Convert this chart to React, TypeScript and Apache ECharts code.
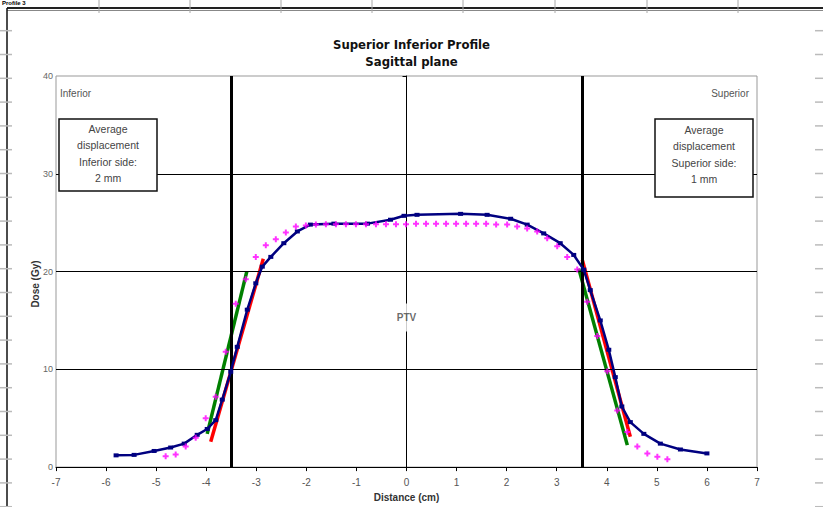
import React, { useEffect, useRef } from "react";
import * as echarts from "echarts";

// ---- data ----
const xTickMin = -7;
const xTickMax = 7;
const doseMin = 0;
const doseMax = 40;

// measured profile (navy)
const blueX = [-5.8, -5.44, -5.04, -4.71, -4.44, -4.18, -3.98, -3.81, -3.68, -3.51, -3.38, -3.18, -3.01, -2.88, -2.71, -2.45, -2.18, -1.92, -1.45, -0.78, -0.32, -0.05, 0.21, 1.08, 1.61, 2.08, 2.41, 2.74, 3.07, 3.34, 3.54, 3.67, 3.87, 4.04, 4.17, 4.3, 4.47, 4.74, 5.07, 5.47, 6.0];
const blueDose = [1.2, 1.25, 1.65, 2.0, 2.4, 3.3, 3.9, 4.8, 6.9, 9.75, 12.3, 16.1, 18.8, 20.5, 21.5, 22.9, 24.1, 24.8, 24.9, 24.9, 25.3, 25.7, 25.8, 25.9, 25.8, 25.4, 24.8, 23.9, 22.9, 21.7, 20.2, 18.1, 15.0, 12.0, 9.2, 6.2, 4.6, 3.4, 2.4, 1.8, 1.4];

// planned profile (magenta markers)
const magX = [-4.81, -4.61, -4.41, -4.21, -4.01, -3.81, -3.61, -3.41, -3.21, -3.01, -2.81, -2.61, -2.41, -2.21, -2.01, -1.81, -1.61, -1.41, -1.21, -1.01, -0.81, -0.61, -0.41, -0.21, -0.01, 0.19, 0.39, 0.59, 0.79, 0.99, 1.19, 1.39, 1.59, 1.79, 2.01, 2.21, 2.41, 2.61, 2.81, 3.01, 3.21, 3.41, 3.61, 3.81, 4.01, 4.21, 4.41, 4.61, 4.81, 5.01, 5.21];
const magDose = [1.1, 1.3, 2.1, 3.0, 5.0, 7.2, 11.8, 16.7, 19.2, 21.5, 22.7, 23.3, 24.0, 24.6, 24.7, 24.8, 24.85, 24.85, 24.85, 24.85, 24.85, 24.85, 24.85, 24.85, 24.85, 24.9, 24.9, 24.9, 24.9, 24.9, 24.9, 24.9, 24.9, 24.8, 24.8, 24.6, 24.4, 24.1, 23.4, 22.6, 21.5, 20.2, 16.9, 13.4, 9.8, 5.8, 3.6, 2.1, 1.4, 1.05, 0.8];

// fitted penumbra lines
const redLeftX = [-3.91, -2.86];
const redLeftDose = [2.6, 21.3];
const redRightX = [3.51, 4.47];
const redRightDose = [21.2, 3.1];
const greenLeftX = [-3.98, -3.19];
const greenLeftDose = [3.4, 20.0];
const greenRightX = [3.44, 4.41];
const greenRightDose = [20.3, 2.25];

const fieldEdges = [-3.5, 3.5];
const doseGridLines = [10, 20, 30];
const ptvLabelPoint = [0, 15.3];

const leftBoxLines = ["Average", "displacement", "Inferior side:", "2 mm"];
const rightBoxLines = ["Average", "displacement", "Superior side:", "1 mm"];

const pair = (xs: number[], ys: number[]) => xs.map((x, i) => [x, ys[i]]);

const FONT = "'Liberation Sans', Arial, sans-serif";
const NARROW = "'Liberation Sans Narrow', 'DejaVu Sans Condensed', 'Arial Narrow', sans-serif";

export default function App() {
  const ref = useRef<HTMLDivElement>(null);

  useEffect(() => {
    if (!ref.current) return;
    const chart = echarts.init(ref.current, null, { renderer: "svg" });

    const graphics: any[] = [];
    // sheet frame
    graphics.push({
      type: "text", left: 2, top: 0, z: 100,
      style: { text: "Profile 3", font: `bold 6px ${FONT}`, fill: "#000" },
    });
    graphics.push({ type: "line", z: 100, shape: { x1: 7, y1: 8, x2: 823, y2: 8 }, style: { stroke: "#222", lineWidth: 2 } });
    graphics.push({ type: "line", z: 100, shape: { x1: 7, y1: 10.5, x2: 823, y2: 10.5 }, style: { stroke: "#888", lineWidth: 1 } });
    graphics.push({ type: "line", z: 100, shape: { x1: 7, y1: 8, x2: 7, y2: 507 }, style: { stroke: "#111", lineWidth: 1.5 } });
    const colX = [99, 190, 281, 372, 463, 555, 647, 738];
    colX.forEach((x) =>
      graphics.push({ type: "line", z: 100, shape: { x1: x, y1: 0, x2: x, y2: 13 }, style: { stroke: "#aaa", lineWidth: 1 } })
    );
    for (let k = 0; k < 21; k++) {
      const y = 30.7 + 23.8 * k;
      graphics.push({ type: "line", z: 100, shape: { x1: 0, y1: y, x2: 12, y2: y }, style: { stroke: "#bbb", lineWidth: 1.5 } });
      graphics.push({ type: "line", z: 100, shape: { x1: 815, y1: y, x2: 823, y2: y }, style: { stroke: "#bbb", lineWidth: 1.5 } });
    }
    // corner labels
    graphics.push({ type: "text", x: 60, y: 93, z: 100, style: { text: "Inferior", font: `10px ${FONT}`, fill: "#555", verticalAlign: "middle" } });
    graphics.push({ type: "text", x: 749, y: 93, z: 100, style: { text: "Superior", font: `10px ${FONT}`, fill: "#555", align: "right", verticalAlign: "middle" } });
    // boxes
    const box = (x: number, y: number, w: number, h: number, lines: string[], y0: number) => {
      graphics.push({ type: "rect", z: 100, shape: { x, y, width: w, height: h }, style: { fill: "#fff", stroke: "#111", lineWidth: 1.5 } });
      lines.forEach((t, i) =>
        graphics.push({
          type: "text", z: 101, x: x + w / 2, y: y0 + 16.3 * i,
          style: { text: t, font: `10.5px ${FONT}`, fill: "#444", align: "center", verticalAlign: "middle" },
        })
      );
    };
    box(59, 119, 98, 72, leftBoxLines, 129);
    box(655, 119, 98, 78, rightBoxLines, 130);
    // y axis title
    graphics.push({
      type: "text", x: 35, y: 284, rotation: Math.PI / 2, z: 100,
      style: { text: "Dose (Gy)", font: `bold 10px ${FONT}`, fill: "#333", align: "center", verticalAlign: "middle" },
    });

    const option: any = {
      animation: false,
      backgroundColor: "#fff",
      title: {
        text: "Superior Inferior Profile\nSagittal plane",
        left: "center",
        top: 31,
        textStyle: { fontFamily: NARROW, fontSize: 13, fontWeight: "bold", color: "#111", lineHeight: 17 },
      },
      grid: { left: 56, right: 66, top: 76, bottom: 38, show: true, borderColor: "#999", borderWidth: 1, backgroundColor: "transparent" },
      xAxis: {
        type: "value", min: xTickMin, max: xTickMax, interval: 1, z: 5,
        axisLine: { lineStyle: { color: "#000", width: 1 } },
        axisTick: { length: 4, lineStyle: { color: "#000" } },
        splitLine: { show: false },
        axisLabel: { color: "#555", fontSize: 10, fontFamily: FONT, margin: 10 },
        name: "Distance (cm)", nameLocation: "middle", nameGap: 22,
        nameTextStyle: { color: "#333", fontSize: 10, fontWeight: "bold", fontFamily: FONT },
      },
      yAxis: {
        type: "value", min: doseMin, max: doseMax, interval: 10, z: 5,
        axisLine: { onZero: true, lineStyle: { color: "#000", width: 1 } },
        axisTick: { length: 4, lineStyle: { color: "#000" } },
        splitLine: { show: false },
        axisLabel: { color: "#666", fontSize: 9, fontFamily: FONT, margin: 3 },
      },
      graphic: graphics,
      series: [
        {
          type: "line", data: [], silent: true, z: 1,
          markLine: {
            symbol: "none", silent: true, label: { show: false },
            lineStyle: { color: "#000", width: 1, type: "solid" },
            data: [
              ...doseGridLines.map((v) => ({ yAxis: v })),
              ...fieldEdges.map((v) => ({ xAxis: v, lineStyle: { color: "#000", width: 3, type: "solid" } })),
            ],
          },
        },
        { type: "line", data: pair(greenLeftX, greenLeftDose), showSymbol: false, lineStyle: { color: "#008000", width: 3.5 }, z: 3 },
        { type: "line", data: pair(greenRightX, greenRightDose), showSymbol: false, lineStyle: { color: "#008000", width: 3.5 }, z: 3 },
        { type: "line", data: pair(redLeftX, redLeftDose), showSymbol: false, lineStyle: { color: "#ff0000", width: 3.5 }, z: 4 },
        { type: "line", data: pair(redRightX, redRightDose), showSymbol: false, lineStyle: { color: "#ff0000", width: 3.5 }, z: 4 },
        {
          type: "line", data: pair(blueX, blueDose), symbol: "rect", symbolSize: [5, 4], z: 5,
          itemStyle: { color: "#000080" }, lineStyle: { color: "#000080", width: 2.5 },
        },
        {
          type: "scatter", data: pair(magX, magDose), z: 6,
          symbol: "path://M2,0H4V2H6V4H4V6H2V4H0V2H2Z", symbolSize: 6,
          itemStyle: { color: "#ff00ff" },
        },
        {
          type: "scatter", data: [ptvLabelPoint], symbolSize: 0, z: 7, silent: true,
          label: {
            show: true, position: "inside", formatter: "PTV",
            backgroundColor: "#fff", padding: [9, 3],
            color: "#444", fontSize: 10, fontWeight: "bold", fontFamily: FONT,
          },
        },
      ],
    };
    chart.setOption(option);
    return () => chart.dispose();
  }, []);

  return <div ref={ref} style={{ width: 823, height: 507, position: "absolute", left: 0, top: 0 }} />;
}
